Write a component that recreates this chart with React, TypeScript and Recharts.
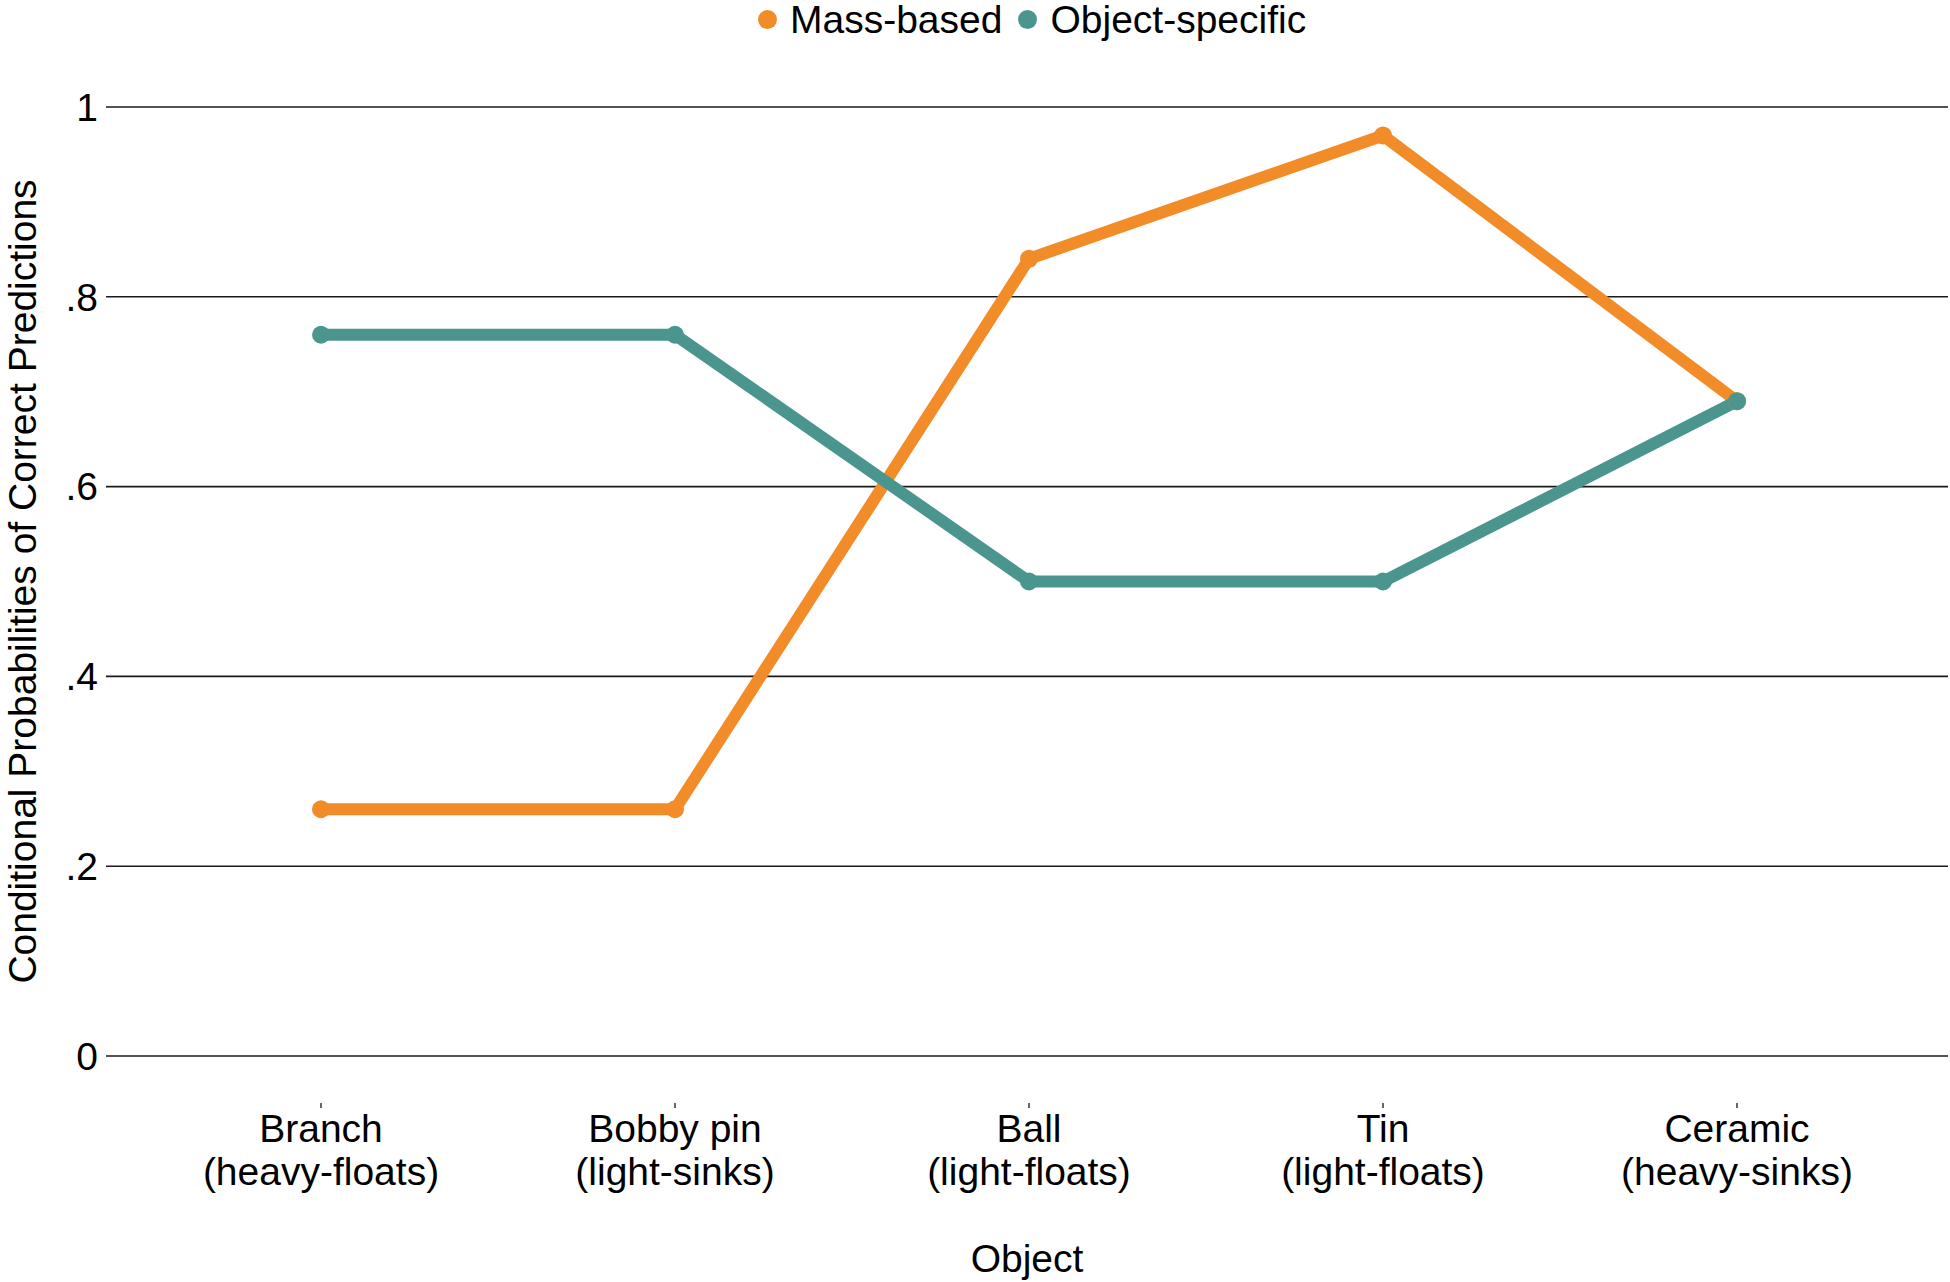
import React from 'react';
import {
  LineChart,
  Line,
  XAxis,
  YAxis,
  CartesianGrid,
  Legend,
} from 'recharts';

// Objects on the x axis and their condition
const categories = ['Branch', 'Bobby pin', 'Ball', 'Tin', 'Ceramic'];
const conditions = ['(heavy-floats)', '(light-sinks)', '(light-floats)', '(light-floats)', '(heavy-sinks)'];

// Conditional probabilities
const massBased = [0.26, 0.26, 0.84, 0.97, 0.69];
const objectSpecific = [0.76, 0.76, 0.5, 0.5, 0.69];

const yTicks = [0, 0.2, 0.4, 0.6, 0.8, 1];
const yTickLabels = ['0', '.2', '.4', '.6', '.8', '1'];

const ORANGE = '#F28C28';
const TEAL = '#4A968E';
const FONT = '"Liberation Sans", Arial, sans-serif';
const FONT_SIZE = 39;

const data = categories.map((name, i) => ({
  name,
  mass: massBased[i],
  object: objectSpecific[i],
}));

// Two-line category label with a tiny tick mark above it
const CategoryTick = (props: any) => {
  const { x, y, payload, index } = props;
  return (
    <g>
      <line x1={x} x2={x} y1={y + 47} y2={y + 52} stroke="#000" strokeWidth={1.2} />
      <text x={x} y={y + 86} textAnchor="middle" fontSize={FONT_SIZE} fontFamily={FONT} fill="#000">
        {payload.value}
      </text>
      <text x={x} y={y + 129} textAnchor="middle" fontSize={FONT_SIZE} fontFamily={FONT} fill="#000">
        {conditions[index]}
      </text>
    </g>
  );
};

const renderLegend = (props: any) => {
  const { payload } = props;
  return (
    <div
      style={{
        display: 'flex',
        alignItems: 'center',
        paddingLeft: 758,
        fontSize: FONT_SIZE,
        lineHeight: '39px',
        fontFamily: FONT,
        color: '#000',
      }}
    >
      {payload.map((entry: any) => (
        <div key={entry.value} style={{ display: 'flex', alignItems: 'center', marginRight: 16 }}>
          <span
            style={{
              display: 'inline-block',
              width: 19,
              height: 19,
              borderRadius: '50%',
              background: entry.color,
              marginRight: 13,
            }}
          />
          <span>{entry.value}</span>
        </div>
      ))}
    </div>
  );
};

const YTitle = (props: any) => {
  const { viewBox } = props;
  const cx = viewBox.x + 36;
  const cy = viewBox.y + viewBox.height / 2;
  return (
    <text
      x={cx}
      y={cy}
      transform={`rotate(-90, ${cx}, ${cy})`}
      textAnchor="middle"
      fontSize={FONT_SIZE}
      fontFamily={FONT}
      fill="#000"
    >
      Conditional Probabilities of Correct Predictions
    </text>
  );
};

const XTitle = (props: any) => {
  const { viewBox } = props;
  return (
    <text
      x={viewBox.x + viewBox.width / 2}
      y={viewBox.y + 216}
      textAnchor="middle"
      fontSize={FONT_SIZE}
      fontFamily={FONT}
      fill="#000"
    >
      Object
    </text>
  );
};

export default function App() {
  return (
    <div style={{ position: 'absolute', left: 0, top: 0, width: 1950, height: 1282, background: '#fff' }}>
      <LineChart
        width={1950}
        height={1282}
        data={data}
        margin={{ top: 107, right: 2, bottom: 0, left: 0 }}
        style={{ fontFamily: FONT }}
      >
        <CartesianGrid horizontal vertical={false} stroke="#1a1a1a" strokeWidth={1.6} />
        <XAxis
          dataKey="name"
          type="category"
          height={226}
          padding={{ left: 215, right: 211 }}
          axisLine={false}
          tickLine={false}
          tickSize={0}
          tickMargin={0}
          interval={0}
          tick={<CategoryTick />}
          label={<XTitle />}
        />
        <YAxis
          type="number"
          domain={[0, 1]}
          ticks={yTicks}
          width={106}
          axisLine={false}
          tickLine={false}
          tickFormatter={(v: number) => yTickLabels[yTicks.indexOf(v)]}
          tick={{ fontSize: FONT_SIZE, fontFamily: FONT, fill: '#000' }}
          label={<YTitle />}
        />
        <Legend
          layout="horizontal"
          verticalAlign="middle"
          align="center"
          content={renderLegend}
          wrapperStyle={{ top: 0, left: 0, width: 1950, margin: 0 }}
        />
        <Line
          type="linear"
          dataKey="mass"
          name="Mass-based"
          stroke={ORANGE}
          strokeWidth={12}
          dot={{ r: 9, fill: ORANGE, stroke: ORANGE, strokeWidth: 0 }}
          activeDot={false}
          isAnimationActive={false}
        />
        <Line
          type="linear"
          dataKey="object"
          name="Object-specific"
          stroke={TEAL}
          strokeWidth={12}
          dot={{ r: 9, fill: TEAL, stroke: TEAL, strokeWidth: 0 }}
          activeDot={false}
          isAnimationActive={false}
        />
      </LineChart>
    </div>
  );
}
